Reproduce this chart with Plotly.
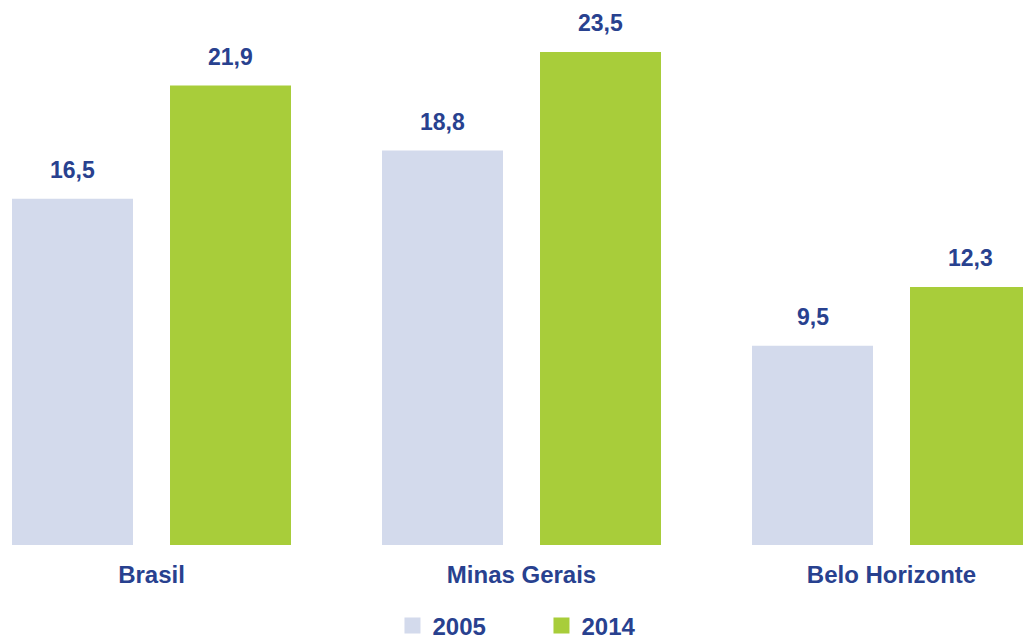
import plotly.graph_objects as go

categories = ["Brasil", "Minas Gerais", "Belo Horizonte"]
series_names = ["2005", "2014"]
values_2005 = [16.5, 18.8, 9.5]
values_2014 = [21.9, 23.5, 12.3]

COL_2005 = "#d3daec"
COL_2014 = "#a8cd3a"
TXT = "#28418f"
FONT = "Liberation Sans, Arial, Helvetica, sans-serif"

BAR_W = 0.327
OFFSETS = [-0.377, 0.05]

def fmt(v):
    return f"{v:.1f}".replace(".", ",")

fig = go.Figure()
for name, vals, col, off in [
    (series_names[0], values_2005, COL_2005, OFFSETS[0]),
    (series_names[1], values_2014, COL_2014, OFFSETS[1]),
]:
    fig.add_trace(go.Bar(
        x=categories, y=vals, name=name,
        marker=dict(color=col, line=dict(width=0)),
        width=BAR_W, offset=off, showlegend=False,
        hoverinfo="x+y+name",
    ))
    # legend entry with a larger square swatch
    fig.add_trace(go.Scatter(
        x=[None], y=[None], mode="markers", name=name,
        marker=dict(symbol="square", size=20, color=col),
        showlegend=True, hoverinfo="skip",
    ))
    for i, v in enumerate(vals):
        fig.add_annotation(
            x=i + off + BAR_W / 2, y=v, xref="x", yref="y",
            text=fmt(v), showarrow=False, yanchor="middle", yshift=29,
            font=dict(family=FONT, size=23, color=TXT, weight="bold"),
        )

fig.update_layout(
    width=1023, height=641,
    margin=dict(l=0, r=0, t=0, b=96, autoexpand=False),
    paper_bgcolor="white", plot_bgcolor="white",
    barmode="overlay",
    showlegend=True,
    legend=dict(
        orientation="h", x=0.5293, xanchor="center", y=-0.107, yanchor="top",
        font=dict(family=FONT, size=24, color=TXT, weight="bold"),
        entrywidth=104, traceorder="normal", itemsizing="trace",
    ),
    xaxis=dict(
        type="category", range=[-0.4095, 2.3554],
        showgrid=False, zeroline=False, showline=False, ticks="",
        tickfont=dict(family=FONT, size=24, color=TXT, weight="bold"),
        ticklabelstandoff=13,
    ),
    yaxis=dict(
        range=[0, 25.98], showgrid=False, zeroline=False, showline=False,
        showticklabels=False, ticks="",
    ),
)

fig.write_html(
    "out.html",
    config={"displayModeBar": False},
    post_script="document.body.style.margin='0px';document.body.style.overflow='hidden';",
)
